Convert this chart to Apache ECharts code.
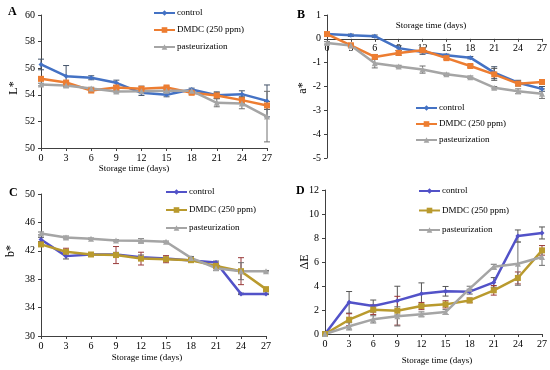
<!DOCTYPE html>
<html><head><meta charset="utf-8">
<script src="https://cdn.jsdelivr.net/npm/echarts@6/dist/echarts.min.js"></script>
<style>
html,body{margin:0;padding:0;background:#fff;}
.p{position:absolute;width:275px;height:185px;}
</style></head>
<body>
<div id="A" class="p" style="left:0;top:0"></div>
<div id="B" class="p" style="left:275px;top:0"></div>
<div id="C" class="p" style="left:0;top:185px"></div>
<div id="D" class="p" style="left:275px;top:185px"></div>
<script>
const days = [0, 3, 6, 9, 12, 15, 18, 21, 24, 27];
const seriesNames = ['control', 'DMDC (250 ppm)', 'pasteurization'];

// Panel A: L*
const A_control = [56.28, 55.4, 55.28, 54.9, 54.15, 54.0, 54.4, 53.97, 54.05, 53.54];
const A_dmdc    = [55.2, 54.92, 54.32, 54.55, 54.45, 54.55, 54.15, 53.95, 53.6, 53.2];
const A_past    = [54.77, 54.7, 54.47, 54.25, 54.27, 54.3, 54.3, 53.4, 53.35, 52.36];
const A_control_err = [0.4, 0.8, 0.15, 0.2, 0.2, 0.15, 0.1, 0.25, 0.25, 1.2];
const A_dmdc_err    = [0.1, 0.1, 0.1, 0.1, 0.2, 0.1, 0.1, 0.2, 0.25, 0.3];
const A_past_err    = [0.1, 0.1, 0.1, 0.1, 0.1, 0.1, 0.1, 0.3, 0.4, 1.9];

// Panel B: a*
const B_control = [0.2, 0.15, 0.11, -0.39, -0.55, -0.69, -0.79, -1.42, -1.84, -2.1];
const B_dmdc    = [0.2, -0.27, -0.76, -0.59, -0.48, -0.81, -1.14, -1.49, -1.88, -1.81];
const B_past    = [-0.17, -0.28, -1.02, -1.16, -1.29, -1.49, -1.61, -2.05, -2.2, -2.3];
const B_control_err = [0.05, 0.05, 0.05, 0.1, 0.1, 0.05, 0.05, 0.25, 0.1, 0.1];
const B_dmdc_err    = [0.05, 0.05, 0.1, 0.1, 0.1, 0.05, 0.05, 0.25, 0.1, 0.1];
const B_past_err    = [0.05, 0.05, 0.2, 0.05, 0.15, 0.05, 0.05, 0.05, 0.1, 0.2];

// Panel C: b*
const C_control = [43.6, 41.25, 41.48, 41.48, 41.1, 40.9, 40.63, 40.35, 35.93, 35.93];
const C_dmdc    = [42.9, 41.86, 41.48, 41.4, 40.9, 40.82, 40.68, 39.88, 39.13, 36.6];
const C_past    = [44.45, 43.88, 43.7, 43.46, 43.4, 43.27, 41.0, 39.55, 39.13, 39.13];
const C_control_err = [0.3, 0.4, 0.1, 0.3, 0.3, 0.2, 0.1, 0.2, 0.1, 0.1];
const C_dmdc_err    = [0.3, 0.5, 0.2, 1.2, 0.9, 0.5, 0.2, 0.4, 1.9, 0.2];
const C_past_err    = [0.2, 0.2, 0.1, 0.1, 0.3, 0.1, 0.2, 0.3, 1.2, 0.1];

// Panel D: ΔE
const D_control = [0, 2.64, 2.33, 2.78, 3.36, 3.56, 3.53, 4.3, 8.17, 8.42];
const D_dmdc    = [0, 1.19, 2.03, 1.94, 2.33, 2.47, 2.8, 3.64, 4.67, 6.97];
const D_past    = [0, 0.64, 1.22, 1.47, 1.64, 1.83, 3.78, 5.61, 5.86, 6.42];
const D_control_err = [0, 0.9, 0.5, 1.2, 0.9, 0.4, 0.2, 0.4, 0.5, 0.5];
const D_dmdc_err    = [0, 0.5, 0.4, 1.2, 0.3, 0.3, 0.2, 0.4, 0.5, 0.4];
const D_past_err    = [0, 0.3, 0.3, 0.8, 0.2, 0.2, 0.2, 0.2, 1.8, 0.7];

const FONT = '"Liberation Serif", "DejaVu Serif", serif';
const AXC = '#404040';

function errSeries(vals, errs, color) {
  return {
    type: 'custom',
    silent: true,
    z: 1,
    data: days.map((d, i) => [d, vals[i], errs[i]]),
    renderItem: function (params, api) {
      const x = api.value(0), y = api.value(1), e = api.value(2);
      if (!e) return;
      const top = api.coord([x, y + e]);
      const bot = api.coord([x, y - e]);
      const w = 3;
      const st = { stroke: color, lineWidth: 1 };
      return { type: 'group', children: [
        { type: 'line', shape: { x1: top[0], y1: top[1], x2: bot[0], y2: bot[1] }, style: st },
        { type: 'line', shape: { x1: top[0] - w, y1: top[1], x2: top[0] + w, y2: top[1] }, style: st },
        { type: 'line', shape: { x1: bot[0] - w, y1: bot[1], x2: bot[0] + w, y2: bot[1] }, style: st }
      ]};
    }
  };
}

function lineSeries(name, vals, color, symbol, size) {
  return {
    name: name, type: 'line', z: 2,
    data: days.map((d, i) => [d, vals[i]]),
    symbol: symbol, symbolSize: size,
    itemStyle: { color: color },
    lineStyle: { color: color, width: 2.5 },
    emphasis: { disabled: true }
  };
}

function build(id, cfg) {
  const chart = echarts.init(document.getElementById(id), null, { renderer: 'canvas' });
  const cols = cfg.colors;
  const syms = ['diamond', 'rect', 'triangle'];
  const sizes = [5, 6, 6];
  const vals = cfg.vals, errs = cfg.errs;
  const series = [];
  for (let k = 0; k < 3; k++) series.push(errSeries(vals[k], errs[k], cfg.errColors[k]));
  for (let k = 0; k < 3; k++) series.push(lineSeries(seriesNames[k], vals[k], cols[k], syms[k], sizes[k]));
  const graphic = [
    { type: 'text', left: cfg.letterPos[0], top: cfg.letterPos[1],
      style: { text: cfg.letter, font: 'bold 12px ' + FONT, fill: '#000' } },
    { type: 'text', x: cfg.ynamePos[0], y: cfg.ynamePos[1], rotation: Math.PI / 2,
      style: { text: cfg.yname, font: '12px ' + FONT, fill: '#000', align: 'center', verticalAlign: 'middle' } },
    { type: 'text', x: cfg.xnamePos[0], y: cfg.xnamePos[1],
      style: { text: 'Storage time (days)', font: '9px ' + FONT, fill: '#000', align: 'center', verticalAlign: 'middle' } }
  ];
  const gridH = 185 - cfg.grid.top - cfg.grid.bottom;
  const xOffset = cfg.zeroLine ? -gridH * (0 - cfg.ymin) / (cfg.ymax - cfg.ymin) : 0;
  chart.setOption({
    animation: false,
    textStyle: { fontFamily: FONT },
    grid: cfg.grid,
    legend: {
      orient: 'vertical', left: cfg.legendPos[0], top: cfg.legendPos[1],
      padding: 0,
      itemWidth: 21, itemHeight: 7, itemGap: cfg.legendGap,
      data: seriesNames,
      textStyle: { fontFamily: FONT, fontSize: 9, lineHeight: 10, color: '#000', padding: [0, 0, 0, -3] },
      selectedMode: false
    },
    xAxis: {
      type: 'value', min: 0, max: 27, interval: 3,
      offset: xOffset,
      axisLine: { show: true, onZero: false, lineStyle: { color: AXC, width: 1 } },
      axisTick: { show: true, length: 3, lineStyle: { color: AXC } },
      axisLabel: { fontFamily: FONT, fontSize: 10, color: '#000', margin: 5 },
      splitLine: { show: false }
    },
    yAxis: {
      type: 'value', min: cfg.ymin, max: cfg.ymax, interval: cfg.yint,
      axisLine: { show: true, lineStyle: { color: AXC, width: 1 } },
      axisTick: { show: true, length: 3, lineStyle: { color: AXC } },
      axisLabel: { fontFamily: FONT, fontSize: 10, color: '#000', margin: 6 },
      splitLine: { show: false }
    },
    graphic: graphic,
    series: series
  });
}

const colsAB = ['#4472C4', '#ED7D31', '#A5A5A5'];
const colsCD = ['#5252C8', '#B99A2E', '#A5A5A5'];
const errAB = ['#44546A', '#555555', '#707070'];
const errCD = ['#555555', '#9A3A3A', '#707070'];

build('A', {
  letter: 'A', letterPos: [8, 6], yname: 'L*', ynamePos: [14, 88], xnamePos: [134, 169],
  grid: { left: 41, right: 8, top: 15, bottom: 37 },
  ymin: 50, ymax: 60, yint: 2, zeroLine: false,
  vals: [A_control, A_dmdc, A_past], errs: [A_control_err, A_dmdc_err, A_past_err],
  colors: colsAB, errColors: errAB,
  legendPos: [153, 8], legendGap: 7
});
build('B', {
  letter: 'B', letterPos: [22, 9], yname: 'a*', ynamePos: [28, 88], xnamePos: [156, 26],
  grid: { left: 52, right: 6, top: 15, bottom: 27 },
  ymin: -5, ymax: 1, yint: 1, zeroLine: true,
  vals: [B_control, B_dmdc, B_past], errs: [B_control_err, B_dmdc_err, B_past_err],
  colors: colsAB, errColors: errAB,
  legendPos: [140, 103], legendGap: 6
});
build('C', {
  letter: 'C', letterPos: [9, 2], yname: 'b*', ynamePos: [11, 66], xnamePos: [147, 173],
  grid: { left: 41, right: 9, top: 9, bottom: 34 },
  ymin: 30, ymax: 50, yint: 4, zeroLine: false,
  vals: [C_control, C_dmdc, C_past], errs: [C_control_err, C_dmdc_err, C_past_err],
  colors: colsCD, errColors: errCD,
  legendPos: [165, 2], legendGap: 8
});
build('D', {
  letter: 'D', letterPos: [21, 0], yname: 'ΔE', ynamePos: [30, 77], xnamePos: [162, 176],
  grid: { left: 50, right: 8, top: 5, bottom: 36 },
  ymin: 0, ymax: 12, yint: 2, zeroLine: false,
  vals: [D_control, D_dmdc, D_past], errs: [D_control_err, D_dmdc_err, D_past_err],
  colors: colsCD, errColors: errCD,
  legendPos: [143, 1], legendGap: 9.5
});
</script>
</body></html>
